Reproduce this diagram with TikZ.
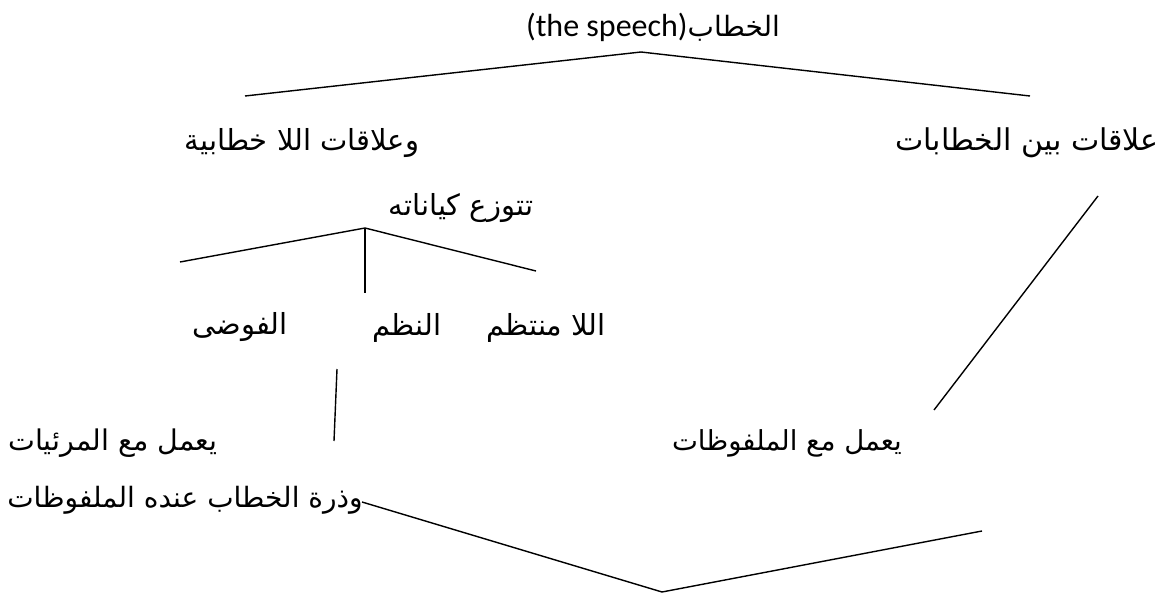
\documentclass[tikz,border=0pt]{standalone}
\usepackage{fontspec}
\TeXXeTstate=1
\newfontfamily\arfont[Script=Arabic]{DejaVu Sans}
\newfontfamily\latfont{Carlito}
\newcommand{\AR}[1]{{\arfont\beginR #1\endR}}
\tikzset{
  lbl/.style={inner sep=0pt, anchor=center, font=\fontsize{29}{33}\selectfont},
  lblb/.style={inner sep=0pt, anchor=center, font=\fontsize{28}{32}\selectfont},
  conn/.style={line width=1.4pt, black},
}
\begin{document}
\begin{tikzpicture}[x=1pt,y=-1pt]
\useasboundingbox (0,0) rectangle (1162,597);
% texts
\node[lblb] (title) at (653,27) {{\latfont\fontsize{32}{34}\selectfont(the speech)}\AR{الخطاب}};
\node[lbl] (A) at (302,143) {\AR{وعلاقات اللا خطابية}};
\node[lblb, font=\fontsize{30}{34}\selectfont] (B) at (1027,143) {\AR{علاقات بين الخطابات}};
\node[lbl] (K) at (461,208) {\AR{تتوزع كياناته}};
\node[lbl] (F) at (240,327) {\AR{الفوضى}};
\node[lbl] (N) at (407,328) {\AR{النظم}};
\node[lbl] (M) at (546,328) {\AR{اللا منتظم}};
\node[lblb, font=\fontsize{28.5}{32}\selectfont] (V) at (113,443) {\AR{يعمل مع المرئيات}};
\node[lblb] (D) at (185,500) {\AR{وذرة الخطاب عنده الملفوظات}};
\node[lblb, font=\fontsize{27.5}{32}\selectfont] (U) at (787,443) {\AR{يعمل مع الملفوظات}};
% connector points
\coordinate (tA) at (641,52);
\coordinate (tL) at (245,96);
\coordinate (tR) at (1030,96);
\coordinate (kA) at (365,228);
\coordinate (kL) at (180,262);
\coordinate (kM) at (365,293);
\coordinate (kR) at (536,271);
\coordinate (nT) at (337,369);
\coordinate (nB) at (334,441);
\coordinate (bT) at (1098,196);
\coordinate (bB) at (934,410);
\coordinate (vL) at (362,502);
\coordinate (vA) at (662,592);
\coordinate (vR) at (982,531);
% connectors
\draw[conn] (tL) -- (tA) -- (tR);
\draw[conn] (kL) -- (kA) -- (kR);
\draw[conn] (kA) -- (kM);
\draw[conn] (nT) -- (nB);
\draw[conn] (bT) -- (bB);
\draw[conn] (vL) -- (vA) -- (vR);
\end{tikzpicture}
\end{document}
